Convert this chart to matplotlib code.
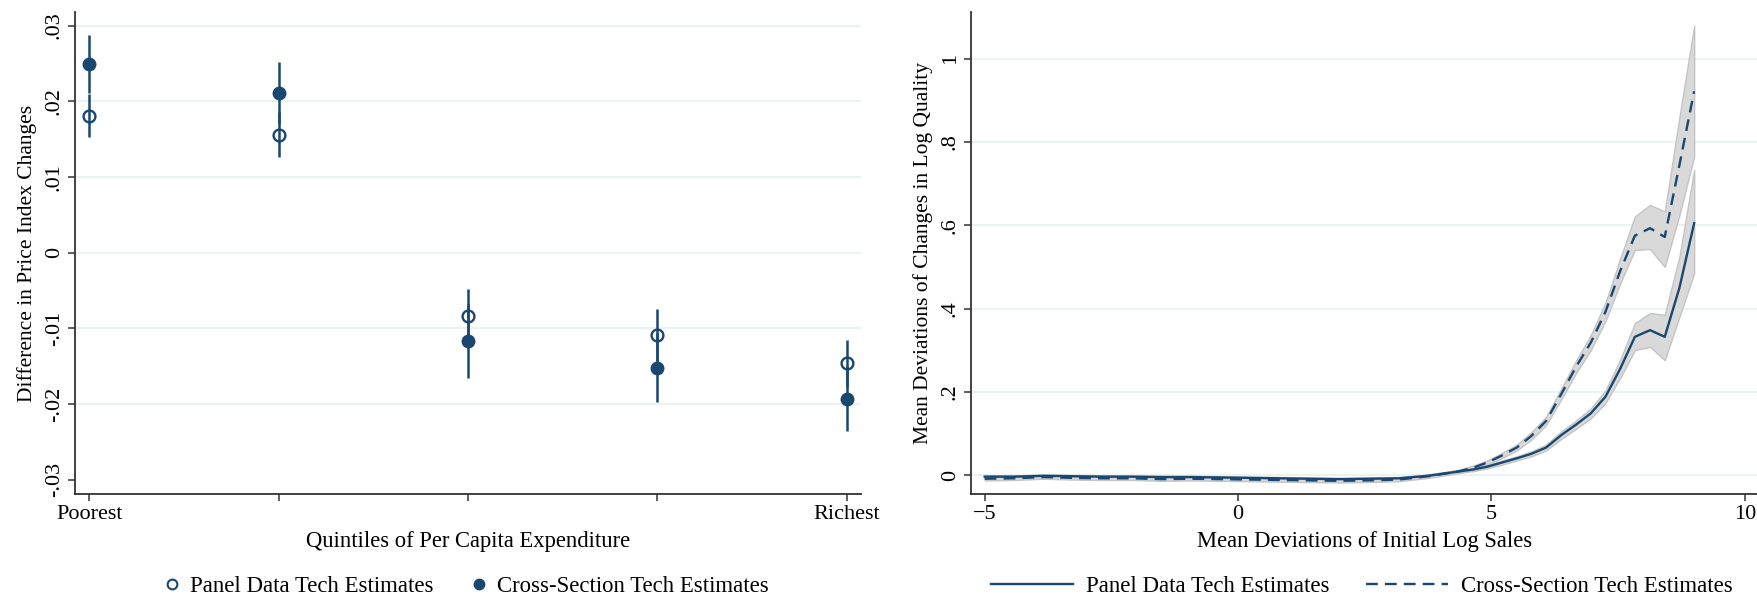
import matplotlib
matplotlib.use("Agg")
import matplotlib.pyplot as plt
from matplotlib.lines import Line2D

plt.rcParams['font.family'] = ['Liberation Serif', 'DejaVu Serif']

NAVY = '#1a476f'
GRID = '#eaf2f3'

# ---- left panel: price index differences by quintile
quintiles = [1, 2, 3, 4, 5]
quintile_labels = ['Poorest', '', '', '', 'Richest']
panel_est = [0.0181, 0.0156, -0.0084, -0.0109, -0.0146]
panel_ci = [0.0028, 0.0030, 0.0036, 0.0034, 0.0031]
cross_est = [0.0249, 0.0211, -0.0117, -0.0152, -0.0193]
cross_ci = [0.0038, 0.0041, 0.0049, 0.0046, 0.0043]
left_yticks = [-0.03, -0.02, -0.01, 0, 0.01, 0.02, 0.03]
left_ylabels = ['-.03', '-.02', '-.01', '0', '.01', '.02', '.03']

# ---- right panel: quality changes vs initial log sales
sales = [-5.0, -4.42, -3.83, -3.25, -2.67, -2.08, -1.5, -0.92, -0.33, 0.25,
         0.83, 1.42, 2.0, 2.58, 3.17, 3.75, 4.33, 4.63, 4.92, 5.21, 5.5,
         5.79, 6.08, 6.38, 6.67, 6.96, 7.25, 7.54, 7.83, 8.13, 8.42, 8.71, 9.0]
panel_q = [-0.004, -0.004, -0.002, -0.003, -0.004, -0.004, -0.005, -0.005,
           -0.006, -0.007, -0.008, -0.009, -0.010, -0.009, -0.008, -0.002,
           0.008, 0.013, 0.020, 0.030, 0.040, 0.051, 0.066, 0.096, 0.121,
           0.148, 0.188, 0.255, 0.332, 0.348, 0.332, 0.450, 0.605]
panel_lo = [-0.007, -0.007, -0.005, -0.006, -0.007, -0.007, -0.008, -0.008,
            -0.009, -0.010, -0.011, -0.012, -0.013, -0.012, -0.011, -0.005,
            0.005, 0.009, 0.016, 0.025, 0.035, 0.045, 0.059, 0.087, 0.111,
            0.136, 0.173, 0.233, 0.300, 0.308, 0.276, 0.380, 0.485]
panel_hi = [-0.001, -0.001, 0.001, 0.000, -0.001, -0.001, -0.002, -0.002,
            -0.003, -0.004, -0.005, -0.006, -0.007, -0.006, -0.005, 0.001,
            0.011, 0.017, 0.024, 0.035, 0.045, 0.057, 0.073, 0.105, 0.131,
            0.160, 0.203, 0.277, 0.365, 0.389, 0.385, 0.525, 0.733]
cross_q = [-0.009, -0.008, -0.005, -0.007, -0.008, -0.008, -0.010, -0.009,
           -0.010, -0.011, -0.012, -0.013, -0.014, -0.013, -0.011, -0.003,
           0.008, 0.017, 0.030, 0.047, 0.066, 0.094, 0.130, 0.195, 0.260,
           0.318, 0.392, 0.490, 0.575, 0.593, 0.572, 0.745, 0.922]
cross_lo = [-0.013, -0.012, -0.009, -0.011, -0.012, -0.012, -0.014, -0.013,
            -0.014, -0.015, -0.016, -0.017, -0.018, -0.017, -0.015, -0.007,
            0.004, 0.012, 0.025, 0.041, 0.059, 0.085, 0.120, 0.182, 0.245,
            0.300, 0.370, 0.460, 0.541, 0.543, 0.500, 0.625, 0.765]
cross_hi = [-0.005, -0.004, -0.001, -0.003, -0.004, -0.004, -0.006, -0.005,
            -0.006, -0.007, -0.008, -0.009, -0.010, -0.009, -0.007, 0.001,
            0.012, 0.022, 0.035, 0.053, 0.073, 0.103, 0.140, 0.208, 0.275,
            0.336, 0.414, 0.520, 0.621, 0.649, 0.633, 0.860, 1.079]
right_yticks = [0, 0.2, 0.4, 0.6, 0.8, 1.0]
right_ylabels = ['0', '.2', '.4', '.6', '.8', '1']
right_xticks = [-5, 0, 5, 10]

W, H = 1758, 603
fig = plt.figure(figsize=(W / 100, H / 100), dpi=100)
ax1 = fig.add_axes([75 / W, 1 - 494 / H, (861 - 75) / W, (494 - 12) / H])
ax2 = fig.add_axes([971 / W, 1 - 494 / H, (W - 971) / W, (494 - 12) / H])

TICK_FS = 16
XLABEL_FS = 16.3
YLABEL_FS = 15.5
LEG_FS = 16.4


def style(ax):
    for side in ['top', 'right']:
        ax.spines[side].set_visible(False)
    for side in ['left', 'bottom']:
        ax.spines[side].set_color('#333333')
        ax.spines[side].set_linewidth(1.3)
    ax.tick_params(direction='out', length=5, width=1.1, color='#333333',
                   labelsize=TICK_FS, pad=3)
    for lab in ax.get_yticklabels():
        lab.set_rotation(90)
        lab.set_va('center')


# left panel
for y in left_yticks[1:]:
    ax1.axhline(y, color=GRID, lw=1.6, zorder=0)
ax1.errorbar(quintiles, panel_est, yerr=panel_ci, fmt='o', color=NAVY,
             mfc='none', mec=NAVY, mew=1.7, ms=8.5, elinewidth=1.8,
             capsize=0, zorder=3)
ax1.errorbar(quintiles, cross_est, yerr=cross_ci, fmt='o', color=NAVY,
             mfc=NAVY, mec=NAVY, ms=9, elinewidth=1.8, capsize=0, zorder=3)
ax1.set_xlim(0.9245, 5.0745)
ax1.set_ylim(-0.0319, 0.0318)
ax1.set_xticks(quintiles)
ax1.set_xticklabels(quintile_labels)
ax1.set_yticks(left_yticks)
ax1.set_yticklabels(left_ylabels)
ax1.set_xlabel('Quintiles of Per Capita Expenditure', fontsize=XLABEL_FS,
               labelpad=5)
ax1.set_ylabel('Difference in Price Index Changes', fontsize=YLABEL_FS,
               labelpad=6)
style(ax1)

# right panel
for y in right_yticks:
    ax2.axhline(y, color=GRID, lw=1.6, zorder=0)
ax2.fill_between(sales, panel_lo, panel_hi, facecolor='#d9d9d9',
                 edgecolor='#c4c4c4', lw=1, zorder=1)
ax2.fill_between(sales, cross_lo, cross_hi, facecolor='#d9d9d9',
                 edgecolor='#c4c4c4', lw=1, zorder=1)
ax2.plot(sales, panel_q, color=NAVY, lw=1.7, zorder=3)
ax2.plot(sales, cross_q, color=NAVY, lw=1.7, dashes=(5, 3), zorder=3)
ax2.set_xlim(-5.27, 10.26)
ax2.set_ylim(-0.0457, 1.1125)
ax2.set_xticks(right_xticks)
ax2.set_yticks(right_yticks)
ax2.set_yticklabels(right_ylabels)
ax2.set_xlabel('Mean Deviations of Initial Log Sales', fontsize=XLABEL_FS,
               labelpad=5)
ax2.set_ylabel('Mean Deviations of Changes in Log Quality', fontsize=YLABEL_FS,
               labelpad=6)
style(ax2)

# legends
left_handles = [
    Line2D([], [], ls='none', marker='o', mfc='none', mec=NAVY, mew=1.5, ms=7),
    Line2D([], [], ls='none', marker='o', mfc=NAVY, mec=NAVY, ms=7.5),
]
fig.legend(left_handles, ['Panel Data Tech Estimates',
                          'Cross-Section Tech Estimates'],
           loc='center', bbox_to_anchor=(466 / W, 1 - 586 / H), ncol=2,
           frameon=False, fontsize=LEG_FS, handlelength=0.8,
           handletextpad=0.4, columnspacing=1.6)

right_handles = [
    Line2D([], [], color=NAVY, lw=1.7),
    Line2D([], [], color=NAVY, lw=1.7, dashes=(5, 3)),
]
fig.legend(right_handles, ['Panel Data Tech Estimates',
                           'Cross-Section Tech Estimates'],
           loc='center', bbox_to_anchor=(1362 / W, 1 - 586 / H), ncol=2,
           frameon=False, fontsize=LEG_FS, handlelength=3.6,
           handletextpad=0.57, columnspacing=1.6)

fig.savefig('out.png', dpi=100, facecolor='white')
